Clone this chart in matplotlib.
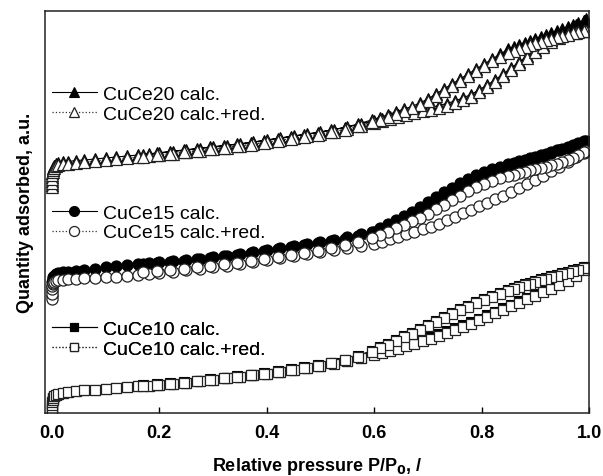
import matplotlib
matplotlib.use("Agg")
import matplotlib.pyplot as plt
import numpy as np

plt.rcParams['font.family'] = ['Liberation Sans', 'DejaVu Sans']

# relative pressure grids (adsorption up, desorption down)
ads_x = [0.0, 0.0, 0.0, 0.0005, 0.001, 0.002, 0.004, 0.007, 0.012, 0.02,
         0.03, 0.045, 0.06, 0.08, 0.1, 0.12, 0.14, 0.16, 0.18, 0.2,
         0.225, 0.25, 0.275, 0.3, 0.325, 0.35, 0.375, 0.4, 0.425, 0.45,
         0.475, 0.5, 0.525, 0.55, 0.575, 0.6, 0.615, 0.63, 0.645, 0.66,
         0.675, 0.69, 0.705, 0.72, 0.735, 0.75, 0.765, 0.78, 0.795, 0.81,
         0.825, 0.84, 0.855, 0.87, 0.885, 0.9, 0.915, 0.93, 0.945, 0.96,
         0.975, 0.99, 0.995]
des_x = [0.99, 0.98, 0.97, 0.96, 0.95, 0.94, 0.93, 0.92, 0.91, 0.9,
         0.89, 0.88, 0.87, 0.86, 0.85, 0.835, 0.82, 0.805, 0.79, 0.775,
         0.76, 0.745, 0.73, 0.715, 0.7, 0.685, 0.67, 0.655, 0.64, 0.625,
         0.61, 0.595, 0.57, 0.545, 0.52, 0.495, 0.47, 0.445, 0.42, 0.395,
         0.37, 0.345, 0.32, 0.295, 0.27, 0.245, 0.22, 0.195, 0.17]

# quantity adsorbed (a.u., curves offset as in the figure)
ce20_calc_ads = [228, 232, 236, 240, 243, 245.5, 247.5, 249, 250, 251,
                 251.5, 252.5, 253, 254, 255, 256, 257, 258, 259, 260,
                 261.5, 263, 264.5, 266, 267.5, 269, 271, 273, 275, 277,
                 279, 281, 283.5, 286, 289, 292, 294, 296, 298, 300,
                 302, 304, 305.5, 307.5, 309.5, 312, 315, 318.5, 323, 328,
                 333, 339, 345, 351, 357, 363, 368, 373, 378, 383,
                 388, 392, 394]
ce20_calc_des = [392, 390, 388, 386, 384, 382, 380, 378, 376, 374,
                 372, 370, 368, 366, 364, 359, 354, 349, 344, 339,
                 334, 329, 324, 319, 314, 310, 306.5, 304, 301, 298,
                 295.5, 293, 289, 285.5, 283, 280.5, 278.5, 276.5, 274.5, 272.5,
                 270.5, 269, 267.5, 266, 264.5, 263, 261.5, 260, 258.5]
ce20_red_ads = [226, 230, 234, 238, 241, 243.5, 245.5, 247, 248, 249,
                249.5, 250.5, 251, 252, 253, 254, 255, 256, 257, 258,
                259.5, 261, 262.5, 264, 265.5, 267, 269, 271, 273, 275,
                277, 279, 281.5, 284, 287, 290, 292, 294, 296, 298,
                300, 302, 303.5, 305.5, 307.5, 310, 313, 316.5, 321, 326,
                331, 337, 343, 349, 355, 361, 366, 371, 375, 378.5,
                380, 381.5, 382]
ce20_red_des = [382, 381, 379.5, 378, 377, 375.5, 374, 372.5, 371, 369.5,
                368, 366, 364, 362, 360, 356, 352, 347, 342, 337,
                332, 327, 322, 317, 312.5, 308.5, 305, 302, 299, 296,
                293.5, 291, 287, 283.5, 281, 278.5, 276.5, 274.5, 272.5, 270.5,
                268.5, 267, 265.5, 264, 262.5, 261, 259.5, 258, 256.5]

ce15_calc_ads = [117, 122, 127, 131, 134, 136, 137.5, 139, 140, 141,
                 141.5, 142.5, 143.5, 144.5, 146, 147, 148, 149, 150, 151,
                 152, 153, 154.5, 156, 157.5, 159, 161, 163, 165, 167,
                 169, 171, 173.5, 176, 179, 181, 183, 185.5, 188.5, 192,
                 196, 200, 204.5, 209, 213.5, 218, 222.5, 227, 231, 235,
                 238.5, 242, 245, 248, 251, 254, 257, 260, 263, 265.5,
                 268, 271, 272]
ce15_calc_des = [272, 270, 268, 266, 264.5, 263, 261, 259.5, 258, 256.5,
                 255, 253.5, 252, 250.5, 249, 246.5, 244, 241, 238, 234,
                 230, 225.5, 221, 216, 211, 206, 201.5, 197, 193, 189,
                 185, 181, 177.5, 174.5, 172, 170, 168, 166, 164, 162,
                 160, 158.5, 157, 155.5, 154, 152.5, 151.5, 150.5, 149.5]
ce15_red_ads = [114, 119, 124, 127, 129, 130.5, 131.5, 132.5, 133, 133.5,
                134, 134.5, 135, 135.5, 136, 136.5, 137.5, 138.5, 139.5, 140.5,
                141.5, 143, 144.5, 146, 147.5, 149, 151, 153, 155, 157,
                159, 161, 163, 165, 167.5, 169.5, 171.5, 174, 176.5, 179,
                181.5, 184, 186.5, 189.5, 193, 196.5, 200, 203.5, 207, 210.5,
                214, 217.5, 221, 225, 229, 233, 237.5, 242, 246.5, 251,
                256, 260.5, 262]
ce15_red_des = [261, 258, 255.5, 253, 251, 249.5, 248, 246.5, 245, 244,
                243, 241.5, 240, 238.5, 237, 235, 232.5, 229.5, 226, 222,
                217.5, 213, 208.5, 204, 199.5, 195.5, 192, 188.5, 185, 181.5,
                178.5, 175.5, 171.5, 168, 165, 162.5, 160, 158, 156, 154,
                152, 150.5, 149, 147.5, 146, 144.5, 143, 142, 141]

ce10_calc_ads = [1, 4, 8, 11, 13, 15, 17, 18.5, 19.5, 20.5,
                 21, 22, 23, 23.5, 24.5, 25, 26, 27, 27.5, 28.5,
                 29.5, 30.5, 32, 33.5, 35, 36.5, 38, 39.5, 41.5, 43.5,
                 45.5, 47.5, 50, 52.5, 55.5, 59, 61, 63.5, 66, 68.5,
                 71, 73.5, 76, 79, 82, 85, 88, 91, 94.5, 98,
                 101.5, 105, 108.5, 112, 115.5, 119, 122.5, 126, 130, 134,
                 139, 144, 146]
ce10_calc_des = [146, 144.5, 143, 141.5, 140, 138.5, 137, 135.5, 134, 132,
                 130.5, 129, 127, 125.5, 123.5, 120.5, 117.5, 114.5, 111, 107.5,
                 104, 100, 96.5, 92.5, 88.5, 84.5, 80.5, 77, 73, 69.5,
                 66, 62.5, 57, 53.5, 50.5, 48, 46, 44, 42, 40,
                 38.5, 37, 35.5, 34, 32.5, 31, 30, 29, 28]
ce10_red_ads = [1, 4, 8, 11, 13, 15, 17, 18.5, 19.5, 20.5,
                21, 22, 23, 23.5, 24.5, 25, 26, 27, 27.5, 28.5,
                29.5, 30.5, 32, 33.5, 35, 36.5, 38, 39.5, 41.5, 43.5,
                45.5, 47.5, 49.5, 52, 55, 58, 60, 62.5, 64.5, 67,
                69.5, 72, 74.5, 77.5, 80.5, 83.5, 86.5, 89.5, 93, 96.5,
                100, 103.5, 107, 110.5, 114, 117.5, 121, 124.5, 128.5, 132.5,
                137.5, 143, 145.5]
ce10_red_des = [145, 143.5, 142, 140.5, 139, 137.5, 136, 134.5, 133, 131,
                129.5, 128, 126, 124.5, 122.5, 119.5, 116.5, 113.5, 110, 106.5,
                103, 99, 95.5, 91.5, 87.5, 83.5, 79.5, 76, 72, 68.5,
                65, 61.5, 56.5, 53, 50, 47.5, 45.5, 43.5, 41.5, 39.5,
                38, 36.5, 35, 33.5, 32, 30.5, 29.5, 28.5, 27.5]

samples = [
    ("CuCe20", "^", 8, ce20_calc_ads, ce20_calc_des, ce20_red_ads, ce20_red_des, 0.769),
    ("CuCe15", "o", 8, ce15_calc_ads, ce15_calc_des, ce15_red_ads, ce15_red_des, 0.473),
    ("CuCe10", "s", 7, ce10_calc_ads, ce10_calc_des, ce10_red_ads, ce10_red_des, 0.183),
]

fig = plt.figure(figsize=(6.03, 4.77), dpi=100)
ax = fig.add_axes([0.0746, 0.1331, 0.9022, 0.8407])

x_all = ads_x + des_x
for name, mk, ms, c_ads, c_des, r_ads, r_des, ly in samples:
    h1, = ax.plot(x_all, c_ads + c_des, '-', color='black', lw=0.8,
                  marker=mk, ms=ms, mfc='black', mec='black', mew=0.8)
    h2, = ax.plot(x_all, r_ads + r_des, ':', color='#333333', lw=0.9,
                  marker=mk, ms=ms, mfc='white', mec='#222222', mew=0.9)
    leg = ax.legend([h1, h2], [f"{name} calc.", f"{name} calc.+red."],
                    loc='center left', bbox_to_anchor=(0.013, ly),
                    frameon=False, fontsize=14, handlelength=2.3,
                    handletextpad=0.3, labelspacing=0.1, borderpad=0,
                    borderaxespad=0, numpoints=1, markerscale=0.9)
    ax.add_artist(leg)

ax.set_xlim(-0.013, 1.0)
ax.set_ylim(0.5, 401.5)
ax.set_xticks([0.0, 0.2, 0.4, 0.6, 0.8, 1.0])
ax.set_xticklabels(["0.0", "0.2", "0.4", "0.6", "0.8", "1.0"],
                   fontsize=13, fontweight='bold')
ax.set_yticks([])
ax.tick_params(axis='x', direction='in', length=4.5, width=1, pad=8)
for s in ax.spines.values():
    s.set_linewidth(1.1)
    s.set_color('#222222')

ax.set_xlabel("Relative pressure P/P$_\\mathbf{0}$, /", fontsize=13,
              fontweight='bold', labelpad=10)
ax.set_ylabel("Quantity adsorbed, a.u.", fontsize=13, fontweight='bold',
              labelpad=8)

fig.savefig("out.png", dpi=100)
